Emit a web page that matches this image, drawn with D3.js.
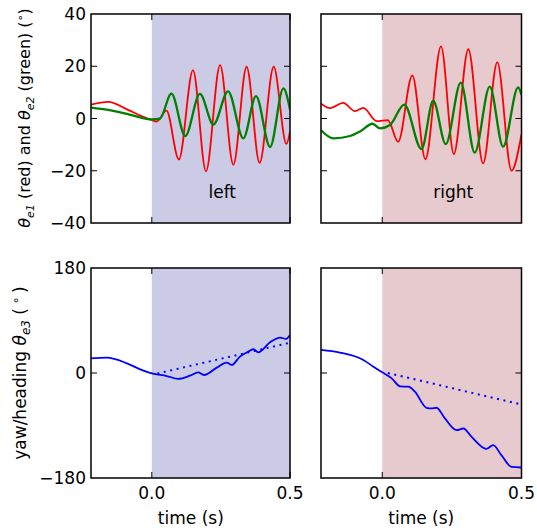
<!DOCTYPE html>
<html><head><meta charset="utf-8">
<script src="https://cdn.jsdelivr.net/npm/d3@7"></script>
<style>body{margin:0;background:#fff}svg{display:block}text{font-family:"DejaVu Sans",sans-serif;font-size:17px;fill:#000}</style>
</head><body><svg id="c" width="537" height="531"></svg>
<script>
// ---- data ----
const timeTicks = [0.0, 0.5];
const angleTicks = [-40, -20, 0, 20, 40];
const yawTicks = [-180, 0, 180];
const conditions = ["left", "right"];

// top-left: theta_e1 (red), theta_e2 (green)
const leftE1 = [[-0.22,5.3],[-0.158,6.4],[-0.086,3.3],[-0.03,0.6],[0,-0.6],[0.017,-1.2],[0.053,3.0],[0.098,-15.7],[0.149,18.5],[0.196,-20.2],[0.247,20.4],[0.295,-17.7],[0.343,19.8],[0.390,-17.0],[0.441,19.8],[0.487,-9.7],[0.5,-5.0]];
const leftE2 = [[-0.22,4.2],[-0.158,3.3],[-0.086,1.7],[-0.038,0.3],[0,-0.3],[0.029,-0.1],[0.071,9.5],[0.121,-6.7],[0.174,9.4],[0.223,-2.3],[0.276,10.4],[0.331,-7.6],[0.377,8.6],[0.428,-10.9],[0.476,11.5],[0.5,3.5]];
// top-right
const rightE1 = [[-0.22,5.7],[-0.188,4.0],[-0.14,6.0],[-0.098,2.8],[-0.068,4.1],[-0.02,-1.0],[0.02,-0.6],[0.057,-8.9],[0.108,16.5],[0.155,-15.6],[0.211,27.6],[0.257,-13.6],[0.309,26.5],[0.362,-17.2],[0.413,21.5],[0.464,-20.0],[0.5,-6.0]];
const rightE2 = [[-0.22,-4.5],[-0.176,-7.6],[-0.116,-6.7],[-0.08,-5.0],[-0.035,-2.0],[-0.008,-3.8],[0.028,-2.5],[0.079,5.3],[0.141,-11.7],[0.183,6.8],[0.228,-9.8],[0.282,13.7],[0.332,-13.1],[0.386,12.2],[0.434,-10.8],[0.488,11.9],[0.5,9.0]];
// bottom: yaw theta_e3 (blue) and linear trend (dotted)
const leftE3 = [[-0.22,25.2],[-0.163,26.3],[-0.09,16.6],[-0.042,6.3],[0,-0.6],[0.054,-5.2],[0.096,-10.0],[0.138,-4.6],[0.168,1.1],[0.189,-3.4],[0.235,9.2],[0.271,17.8],[0.289,13.8],[0.319,28.1],[0.349,36.7],[0.367,40.7],[0.385,35.5],[0.428,52.7],[0.464,60.7],[0.485,58.5],[0.5,65.3]];
const leftTrend = [[0.02,-1],[0.5,52]];
const rightE3 = [[-0.22,39.5],[-0.152,34.9],[-0.068,22.3],[-0.032,10.9],[0,1.1],[0.034,-9.2],[0.064,-23.0],[0.094,-23.5],[0.117,-32.1],[0.159,-59.6],[0.177,-60.7],[0.195,-59.6],[0.225,-77.9],[0.267,-98.0],[0.291,-95.1],[0.321,-109.5],[0.374,-130.0],[0.398,-123.8],[0.428,-141.0],[0.464,-161.0],[0.5,-162.0]];
const rightTrend = [[0.02,0],[0.5,-54]];

const spanColors = ["#cbcbe6", "#e6cacd"];

// ---- layout ----
const svg = d3.select("#c");
const cols = [[91, 290], [321, 521.5]];
const rows = [[14, 223], [268, 478]];
const xDomain = [-0.22, 0.5];

const panels = [
  {c:0, r:0, series:[{d:leftE1,col:"#ff0000",w:1.8},{d:leftE2,col:"#008000",w:2.3}], dom:[-40,40], ticks:angleTicks, label:"left"},
  {c:1, r:0, series:[{d:rightE1,col:"#ff0000",w:1.8},{d:rightE2,col:"#008000",w:2.3}], dom:[-40,40], ticks:angleTicks, label:"right"},
  {c:0, r:1, series:[{d:leftE3,col:"#0000ff",w:1.8},{d:leftTrend,col:"#0000ff",w:2,dash:"2,4.6"}], dom:[-180,180], ticks:yawTicks},
  {c:1, r:1, series:[{d:rightE3,col:"#0000ff",w:1.8},{d:rightTrend,col:"#0000ff",w:2,dash:"2,4.6"}], dom:[-180,180], ticks:yawTicks}
];

panels.forEach((p, i) => {
  const x = d3.scaleLinear().domain(xDomain).range(cols[p.c]);
  const y = d3.scaleLinear().domain(p.dom).range([rows[p.r][1], rows[p.r][0]]);
  const g = svg.append("g");
  const id = "clip" + i;
  svg.append("clipPath").attr("id", id).append("rect")
    .attr("x", x.range()[0]).attr("y", y.range()[1])
    .attr("width", x.range()[1]-x.range()[0]).attr("height", y.range()[0]-y.range()[1]);
  // shaded span
  g.append("rect").attr("x", x(0)).attr("y", y.range()[1])
    .attr("width", x(xDomain[1]) - x(0)).attr("height", y.range()[0]-y.range()[1])
    .attr("fill", spanColors[p.c]);
  // lines
  const line = d3.line().x(d => x(d[0])).y(d => y(d[1])).curve(d3.curveMonotoneX);
  p.series.forEach(s => {
    g.append("path").attr("d", line(s.d)).attr("fill", "none")
      .attr("stroke", s.col).attr("stroke-width", s.w)
      .attr("stroke-dasharray", s.dash || null)
      .attr("stroke-linejoin", "round")
      .attr("clip-path", `url(#${id})`);
  });
  // ticks (inside, both sides)
  const tl = 6;
  const yt = p.ticks.filter(v => v > p.dom[0] && v < p.dom[1]);
  yt.forEach(v => {
    g.append("line").attr("x1", x.range()[0]).attr("x2", x.range()[0]+tl).attr("y1", y(v)).attr("y2", y(v)).attr("stroke", "#000").attr("stroke-width", 1);
    g.append("line").attr("x1", x.range()[1]).attr("x2", x.range()[1]-tl).attr("y1", y(v)).attr("y2", y(v)).attr("stroke", "#000").attr("stroke-width", 1);
  });
  timeTicks.forEach(v => {
    g.append("line").attr("x1", x(v)).attr("x2", x(v)).attr("y1", y.range()[0]).attr("y2", y.range()[0]-tl).attr("stroke", "#000").attr("stroke-width", 1);
    g.append("line").attr("x1", x(v)).attr("x2", x(v)).attr("y1", y.range()[1]).attr("y2", y.range()[1]+tl).attr("stroke", "#000").attr("stroke-width", 1);
  });
  // frame
  g.append("rect").attr("x", x.range()[0]).attr("y", y.range()[1])
    .attr("width", x.range()[1]-x.range()[0]).attr("height", y.range()[0]-y.range()[1])
    .attr("fill", "none").attr("stroke", "#000").attr("stroke-width", 1.5);
  // y tick labels on left column
  if (p.c === 0) {
    p.ticks.forEach(v => {
      g.append("text").attr("x", x.range()[0]-5).attr("y", y(v)).attr("dy", "0.36em")
        .attr("text-anchor", "end").text(v < 0 ? "\u2212" + Math.abs(v) : String(v));
    });
  }
  // x tick labels on bottom row
  if (p.r === 1) {
    timeTicks.forEach(v => {
      g.append("text").attr("x", x(v)).attr("y", 499).attr("text-anchor", "middle").text(v.toFixed(1));
    });
    g.append("text").attr("x", x(0.0)+39).attr("y", 524).attr("text-anchor", "middle").text("time (s)");
  }
  if (p.label) {
    g.append("text").attr("x", x(0.255)).attr("y", 198).attr("text-anchor", "middle").text(p.label);
  }
});

// y axis labels
const l1 = svg.append("text").attr("transform", "translate(30,118) rotate(-90)").attr("text-anchor", "middle").style("font-size", "16px");
l1.append("tspan").attr("font-style", "italic").text("\u03b8");
l1.append("tspan").attr("font-style", "italic").style("font-size", "11px").attr("dy", 4).text("e1");
l1.append("tspan").attr("dy", -4).text(" (red) and ");
l1.append("tspan").attr("font-style", "italic").text("\u03b8");
l1.append("tspan").attr("font-style", "italic").style("font-size", "11px").attr("dy", 4).text("e2");
l1.append("tspan").attr("dy", -4).text(" (green) (");
l1.append("tspan").style("font-size", "11px").attr("dy", -6).text("\u2218");
l1.append("tspan").attr("dy", 6).text(")");

const l2 = svg.append("text").attr("transform", "translate(26,373) rotate(-90)").attr("text-anchor", "middle");
l2.append("tspan").text("yaw/heading ");
l2.append("tspan").attr("font-style", "italic").text("\u03b8");
l2.append("tspan").attr("font-style", "italic").style("font-size", "12px").attr("dy", 4).text("e3");
l2.append("tspan").attr("dy", -4).text(" (");
l2.append("tspan").style("font-size", "12px").attr("dy", -6).text(" \u2218 ");
l2.append("tspan").attr("dy", 6).text(")");
</script></body></html>
